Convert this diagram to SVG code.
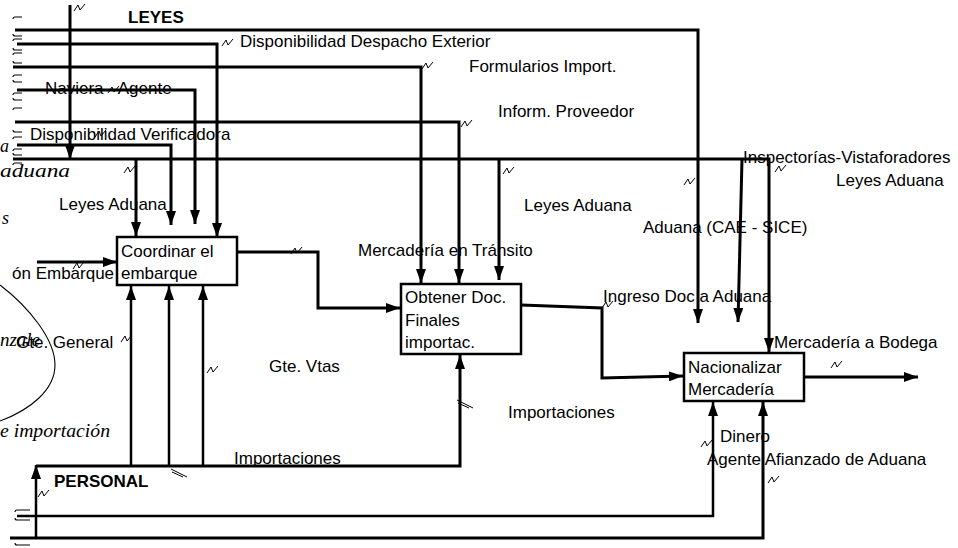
<svg xmlns="http://www.w3.org/2000/svg" xmlns:xlink="http://www.w3.org/1999/xlink" width="958" height="548" viewBox="0 0 958 548">
<style>
.ln{fill:none;stroke:#000;stroke-width:3}
.md{stroke-width:2.5}
.box{fill:#fff;stroke:#000;stroke-width:2.5}
.t{font-family:"Liberation Sans",Arial,sans-serif;font-size:17px;fill:#000}
.b{font-weight:bold}
.c{font-family:"Liberation Serif","DejaVu Serif",serif;font-style:italic;font-size:18px;fill:#000}
.sq{fill:none;stroke:#000;stroke-width:1}
.br{fill:none;stroke:#000;stroke-width:1.1}
</style>
<defs>
<marker id="ah" viewBox="0 0 14 10" markerWidth="14" markerHeight="10" refX="14" refY="5" orient="auto" markerUnits="userSpaceOnUse"><path d="M0,0 L14,5 L0,10 z" fill="#000"/></marker>
<path id="sq" class="sq" d="M0,8 L4,2 L6,7 L11,1"/>
<path id="dq" class="sq" d="M0,0 L16,8 M1,3 L12,8"/>
</defs>
<rect width="958" height="548" fill="#fff"/>
<g id="decor">
<path class="br" d="M22,17 H15 Q13,17 13,19 M22,36 H15 Q13,36 13,34 M22,39 H15 Q13,39 13,41 M22,50 H15 Q13,50 13,48 M22,53 H15 Q13,53 13,55 M22,63 H15 Q13,63 13,61 M22,75 H15 Q13,75 13,77 M22,82 H15 Q13,82 13,80 M22,93 H15 Q13,93 13,95 M22,100 H15 Q13,100 13,98 M22,108 H15 Q13,108 13,110 M22,132 H15 Q13,132 13,130 M22,137 H15 Q13,137 13,139 M22,149 H15 Q13,149 13,151 M22,155 H15 Q13,155 13,153 M22,163 H15 Q13,163 13,165 M30,510 H17 Q15,510 15,512 M30,520 H17 Q15,520 15,518 M30,545 H17 Q15,545 15,543"/>
<path class="br" d="M0,285 C30,308 55,340 55,365 C55,390 30,410 0,421"/>
<text class="c" x="0" y="152">a</text>
<text class="c" x="0" y="177" textLength="70" lengthAdjust="spacingAndGlyphs">aduana</text>
<text class="c" x="2" y="224">s</text>
<text class="c" x="0" y="346" textLength="40" lengthAdjust="spacingAndGlyphs">nzale</text>
<text class="c" x="0" y="437" textLength="110" lengthAdjust="spacingAndGlyphs">e importación</text>
</g>
<g id="labels">
<text class="t b" x="128" y="23">LEYES</text>
<text class="t" x="240" y="47">Disponibilidad Despacho Exterior</text>
<text class="t" x="469" y="72">Formularios Import.</text>
<text class="t" x="45" y="94">Naviera - Agente</text>
<text class="t" x="498" y="117">Inform. Proveedor</text>
<text class="t" x="30" y="140">Disponibilidad Verificadora</text>
<text class="t" x="743" y="163">Inspectorías-Vistaforadores</text>
<text class="t" x="836" y="186">Leyes Aduana</text>
<text class="t" x="59" y="210">Leyes Aduana</text>
<text class="t" x="524" y="211">Leyes Aduana</text>
<text class="t" x="643" y="233">Aduana (CAE - SICE)</text>
<text class="t" x="358" y="256">Mercadería en Tránsito</text>
<text class="t" x="12" y="279">ón Embarque</text>
<text class="t" x="603" y="302">Ingreso Doc a Aduana</text>
<text class="t" x="16" y="348">Gte. General</text>
<text class="t" x="774" y="348">Mercadería a Bodega</text>
<text class="t" x="269" y="372">Gte. Vtas</text>
<text class="t" x="508" y="418">Importaciones</text>
<text class="t" x="720" y="442">Dinero</text>
<text class="t" x="234" y="464">Importaciones</text>
<text class="t" x="707" y="465">Agente Afianzado de Aduana</text>
<text class="t b" x="54" y="487">PERSONAL</text>
</g>
<g id="connectors">
<path class="ln" d="M70,5 V159" marker-end="url(#ah)"/>
<path class="ln" d="M15,30 H698 V323" marker-end="url(#ah)"/>
<path class="ln" d="M17,44 H217 V237" marker-end="url(#ah)"/>
<path class="ln" d="M13,67 H421 V283" marker-end="url(#ah)"/>
<path class="ln" d="M17,90 H195 V224" marker-end="url(#ah)"/>
<path class="ln" d="M15,122 H459 V283" marker-end="url(#ah)"/>
<path class="ln" d="M17,145 H171 V225" marker-end="url(#ah)"/>
<path class="ln" d="M13,159 H769 V352" marker-end="url(#ah)"/>
<path class="ln" d="M136,159 V236" marker-end="url(#ah)"/>
<path class="ln" d="M499,159 V280" marker-end="url(#ah)"/>
<path class="ln" d="M742,159 L738,322" marker-end="url(#ah)"/>
<path class="ln" d="M37,262 H117" marker-end="url(#ah)"/>
<path class="ln" d="M237,252 H318 V308 H400" marker-end="url(#ah)"/>
<path class="ln" d="M521,305 L602,308 V378 L683,376" marker-end="url(#ah)"/>
<path class="ln" d="M804,377 H918" marker-end="url(#ah)"/>
<path class="ln md" d="M131,466 V286" marker-end="url(#ah)"/>
<path class="ln md" d="M169,466 V286" marker-end="url(#ah)"/>
<path class="ln md" d="M203,466 V286" marker-end="url(#ah)"/>
<path class="ln" d="M36,466 H460 V355" marker-end="url(#ah)"/>
<path class="ln md" d="M36,538 V465" marker-end="url(#ah)"/>
<path class="ln md" d="M17,516 H713 V402" marker-end="url(#ah)"/>
<path class="ln" d="M10,538 H763 V402" marker-end="url(#ah)"/>
<use xlink:href="#sq" href="#sq" x="74" y="3"/>
<use xlink:href="#sq" href="#sq" x="222" y="38"/>
<use xlink:href="#sq" href="#sq" x="422" y="61"/>
<use xlink:href="#sq" href="#sq" x="108" y="85"/>
<use xlink:href="#sq" href="#sq" x="461" y="119"/>
<use xlink:href="#sq" href="#sq" x="95" y="129"/>
<use xlink:href="#sq" href="#sq" x="124" y="165"/>
<use xlink:href="#sq" href="#sq" x="503" y="166"/>
<use xlink:href="#sq" href="#sq" x="684" y="177"/>
<use xlink:href="#sq" href="#sq" x="775" y="164"/>
<use xlink:href="#sq" href="#sq" x="73" y="261"/>
<use xlink:href="#sq" href="#sq" x="291" y="246"/>
<use xlink:href="#sq" href="#sq" x="602" y="300"/>
<use xlink:href="#sq" href="#sq" x="831" y="360"/>
<use xlink:href="#sq" href="#sq" x="121" y="334"/>
<use xlink:href="#sq" href="#sq" x="207" y="365"/>
<use xlink:href="#sq" href="#sq" x="38" y="489"/>
<use xlink:href="#sq" href="#sq" x="701" y="439"/>
<use xlink:href="#sq" href="#sq" x="768" y="475"/>
<use xlink:href="#dq" href="#dq" x="171" y="469"/>
<use xlink:href="#dq" href="#dq" x="457" y="400"/>
</g>
<g id="node-coordinar">
<rect class="box" x="117" y="237" width="120" height="48"/>
<text class="t" x="121" y="257">Coordinar el</text>
<text class="t" x="121" y="279">embarque</text>
</g>
<g id="node-obtener">
<rect class="box" x="401" y="284" width="120" height="70"/>
<text class="t" x="405" y="303">Obtener Doc.</text>
<text class="t" x="405" y="326">Finales</text>
<text class="t" x="405" y="348">importac.</text>
</g>
<g id="node-nacionalizar">
<rect class="box" x="684" y="353" width="120" height="48"/>
<text class="t" x="688" y="373">Nacionalizar</text>
<text class="t" x="688" y="395">Mercadería</text>
</g>
</svg>
